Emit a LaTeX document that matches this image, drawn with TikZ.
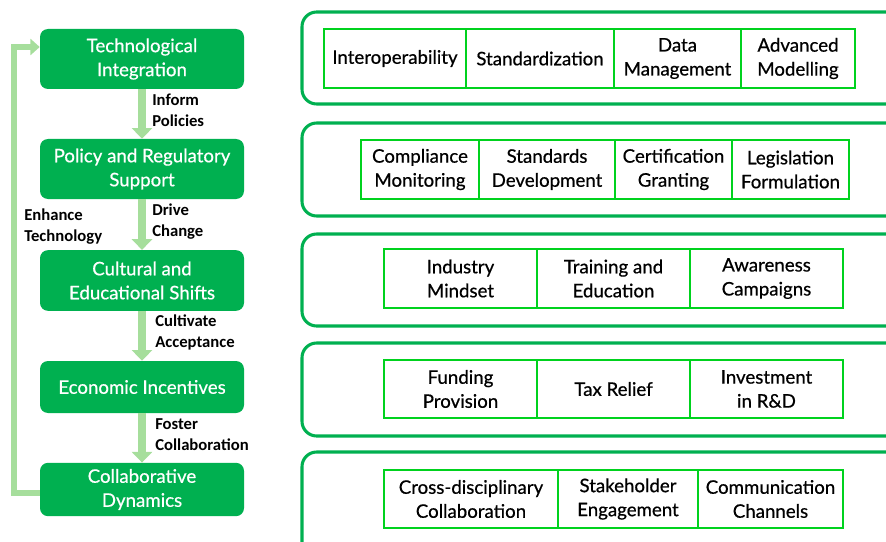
\documentclass[tikz,border=0pt]{standalone}
\usepackage{fontspec}
\setmainfont{Lato}[BoldFont=Lato,BoldFeatures={FakeBold=0.6}]
\newfontfamily\labelfont{Carlito}
\usetikzlibrary{arrows.meta,positioning,calc}
\definecolor{boxgreen}{HTML}{00B050}
\definecolor{cellgreen}{HTML}{00D21E}
\definecolor{flowgreen}{HTML}{A6DE9C}
\begin{document}
\begin{tikzpicture}[x=0.75pt,y=-0.75pt,
  stage/.style={rounded corners=6pt,fill=boxgreen,draw=none,text=white,
    minimum width=153pt,align=center,font=\bfseries\fontsize{14}{18}\selectfont},
  flow/.style={draw=flowgreen,line width=6pt,-{Triangle[width=15pt,length=8pt]}},
  loop/.style={draw=flowgreen,line width=3.8pt,-{Triangle[width=12pt,length=7pt]}},
  flowlabel/.style={anchor=west,align=left,inner sep=0pt,
    font=\labelfont\bfseries\fontsize{12.5}{15.75}\selectfont},
  panel/.style={draw=boxgreen,line width=2.3pt,rounded corners=11pt},
  cell/.style={draw=cellgreen,line width=2.2pt,fill=white,align=center,
    inner sep=0pt,font=\bfseries\fontsize{14}{18}\selectfont}]
\useasboundingbox (0,0) rectangle (886,542);

% left column: stages
\node[stage,minimum height=45pt] (s1) at (142,59) {Technological\\Integration};
\node[stage,minimum height=45pt] (s2) at (142,169) {Policy and Regulatory\\Support};
\node[stage,minimum height=45.5pt] (s3) at (142,280.5) {Cultural and\\Educational Shifts};
\node[stage,minimum height=39pt] (s4) at (142,387) {Economic Incentives};
\node[stage,minimum height=40pt] (s5) at (142,489.5) {Collaborative\\Dynamics};

% downward flow between stages
\draw[flow] (s1.south) -- (s2.north);
\draw[flow] (s2.south) -- (s3.north);
\draw[flow] (s3.south) -- (s4.north);
\draw[flow] (s4.south) -- (s5.north);

\node[flowlabel] (l1) at (152,110.5) {Inform\\Policies};
\node[flowlabel] (l2) at (152,221.5) {Drive\\Change};
\node[flowlabel] (l3) at (155,332.5) {Cultivate\\Acceptance};
\node[flowlabel] (l4) at (155,434.5) {Foster\\Collaboration};

% feedback loop
\coordinate (lb) at (14,493);
\coordinate (lt) at (14,47);
\draw[loop] (s5.west |- lb) -- (lb) -- (lt) -- (s1.west |- lt);
\node[flowlabel] (l5) at (24,226.5) {Enhance\\Technology};

% right column: panels
\draw[panel] (302,12) rectangle (910,104);
\draw[panel] (302,123) rectangle (910,216);
\draw[panel] (302,234) rectangle (910,326);
\draw[panel] (302,343) rectangle (910,436);
\draw[panel] (302,452) rectangle (910,570);

% row 1
\node[cell,minimum width=106.5pt,minimum height=44.25pt] (a1) at (395,58.5) {Interoperability};
\node[cell,minimum width=111pt,minimum height=44.25pt] (a2) at (540,58.5) {Standardization};
\node[cell,minimum width=95.25pt,minimum height=44.25pt] (a3) at (677.5,58.5) {Data\\Management};
\node[cell,minimum width=85.5pt,minimum height=44.25pt] (a4) at (798,58.5) {Advanced\\Modelling};
% row 2
\node[cell,minimum width=88.5pt,minimum height=44.25pt] (b1) at (420,169.5) {Compliance\\Monitoring};
\node[cell,minimum width=102pt,minimum height=44.25pt] (b2) at (547,169.5) {Standards\\Development};
\node[cell,minimum width=87.75pt,minimum height=44.25pt] (b3) at (673.5,169.5) {Certification\\Granting};
\node[cell,minimum width=87.75pt,minimum height=44.25pt] (b4) at (790.5,169.5) {Legislation\\Formulation};
% row 3
\node[cell,minimum width=114.75pt,minimum height=44.25pt] (c1) at (460.5,278.5) {Industry\\Mindset};
\node[cell,minimum width=114.75pt,minimum height=44.25pt] (c2) at (613.5,278.5) {Training and\\Education};
\node[cell,minimum width=114.75pt,minimum height=44.25pt] (c3) at (766.5,278.5) {Awareness\\Campaigns};
% row 4
\node[cell,minimum width=114.75pt,minimum height=43.5pt] (d1) at (460.5,389) {Funding\\Provision};
\node[cell,minimum width=114.75pt,minimum height=43.5pt] (d2) at (613.5,389) {Tax Relief};
\node[cell,minimum width=114.75pt,minimum height=43.5pt] (d3) at (766.5,389) {Investment\\in R\&D};
% row 5
\node[cell,minimum width=130.5pt,minimum height=43.5pt] (e1) at (471,499) {Cross-disciplinary\\Collaboration};
\node[cell,minimum width=105pt,minimum height=43.5pt] (e2) at (628,499) {Stakeholder\\Engagement};
\node[cell,minimum width=108.75pt,minimum height=43.5pt] (e3) at (770.5,499) {Communication\\Channels};
\end{tikzpicture}
\end{document}
